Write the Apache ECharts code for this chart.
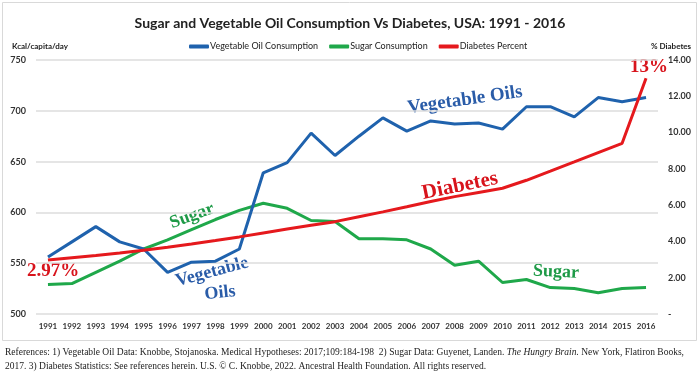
<!DOCTYPE html>
<html>
<head>
<meta charset="utf-8">
<script src="https://cdn.jsdelivr.net/npm/echarts@6/dist/echarts.min.js"></script>
<style>html,body{margin:0;padding:0;background:#fff}#c{width:700px;height:374px}</style>
</head>
<body>
<div id="c"></div>
<script>
const years = ['1991','1992','1993','1994','1995','1996','1997','1998','1999','2000','2001','2002','2003','2004','2005','2006','2007','2008','2009','2010','2011','2012','2013','2014','2015','2016'];
const vegOil = [556,571,586,571,564,541,551,552,564,639,649,678,656,675,693,680,690,687,688,682,704,704,694,713,709,713];
const sugar = [529,530,541,552,564,573,583,593,602,609,604,592,591,574,574,573,564,548,552,531,534,526,525,521,525,526];
const diabetes = [2.97,3.1,3.22,3.36,3.52,3.68,3.86,4.05,4.25,4.47,4.68,4.89,5.09,5.36,5.63,5.91,6.2,6.47,6.7,6.93,7.37,7.87,8.38,8.9,9.41,13.0];
const leftTicks = {min:500, max:750, interval:50};
const rightTicks = {min:0, max:14, interval:2};

const BLUE = '#1f62ad', GREEN = '#1fa84a', RED = '#e5191d';
const SANS = 'Lato, "Open Sans", sans-serif';
const SERIF = '"Liberation Serif", "DejaVu Serif", serif';

const chart = echarts.init(document.getElementById('c'), null, {renderer:'canvas'});
chart.setOption({
  animation: false,
  backgroundColor: '#fff',
  title: {
    text: 'Sugar and Vegetable Oil Consumption Vs Diabetes, USA: 1991 - 2016',
    left: 'center', top: 11,
    textStyle: {fontFamily: SANS, fontSize: 14, fontWeight: 'bold', color: '#222'}
  },
  legend: {
    top: 37, left: 184,
    itemWidth: 20, itemHeight: 4, itemGap: 11,
    icon: 'roundRect',
    textStyle: {fontFamily: SANS, fontSize: 9, color: '#222', padding:[0,0,0,-4]},
    data: ['Vegetable Oil Consumption','Sugar Consumption','Diabetes Percent']
  },
  grid: {left: 36, right: 42, top: 60, bottom: 60},
  xAxis: {
    type: 'category', data: years, boundaryGap: true,
    axisLine: {show: false}, axisTick: {show: false},
    axisLabel: {interval: 0, fontFamily: SANS, fontSize: 8, fontWeight: 'bold', color: '#333', margin: 8}
  },
  yAxis: [
    {type: 'value', min: leftTicks.min, max: leftTicks.max, interval: leftTicks.interval,
     axisLine: {show:false}, axisTick: {show:false},
     axisLabel: {fontFamily: SANS, fontSize: 9, fontWeight: 'bold', color: '#333', margin: 10},
     splitLine: {lineStyle: {color: '#dcdcdc', width: 1.5}}},
    {type: 'value', min: rightTicks.min, max: rightTicks.max, interval: rightTicks.interval,
     axisLine: {show:false}, axisTick: {show:false},
     axisLabel: {fontFamily: SANS, fontSize: 9, fontWeight: 'bold', color: '#333', margin: 10,
       formatter: v => v === 0 ? '-' : v.toFixed(2)},
     splitLine: {show:false}}
  ],
  series: [
    {name: 'Vegetable Oil Consumption', type: 'line', data: vegOil, symbol: 'none',
     lineStyle: {width: 3, color: BLUE}, itemStyle: {color: BLUE}, z: 3},
    {name: 'Sugar Consumption', type: 'line', data: sugar, symbol: 'none',
     lineStyle: {width: 3, color: GREEN}, itemStyle: {color: GREEN}, z: 2},
    {name: 'Diabetes Percent', type: 'line', yAxisIndex: 1, data: diabetes, symbol: 'none',
     lineStyle: {width: 3, color: RED}, itemStyle: {color: RED}, z: 4}
  ],
  graphic: [
    {type:'rect', shape:{x:2.5, y:2.5, width:694, height:338}, style:{fill:'none', stroke:'#d9d9d9', lineWidth:1}, silent:true, z:-1},
    {type:'text', x:12, y:46, style:{text:'Kcal/capita/day', font:'bold 8px '+SANS, fill:'#222', align:'left', verticalAlign:'middle'}},
    {type:'text', x:651, y:46, style:{text:'% Diabetes', font:'bold 8px '+SANS, fill:'#222', align:'left', verticalAlign:'middle'}},
    {type:'text', x:53, y:271, style:{text:'2.97%', font:'bold 19px '+SERIF, fill:'#d8141c', align:'center', verticalAlign:'middle'}},
    {type:'text', x:649, y:67, style:{text:'13%', font:'bold 19px '+SERIF, fill:'#d8141c', align:'center', verticalAlign:'middle'}},
    {type:'text', x:465, y:100, rotation:0.14, style:{text:'Vegetable Oils', font:'bold 19px '+SERIF, fill:'#2a5ca8', align:'center', verticalAlign:'middle'}},
    {type:'text', x:460, y:186, rotation:0.2, style:{text:'Diabetes', font:'bold 21px '+SERIF, fill:'#d8141c', align:'center', verticalAlign:'middle'}},
    {type:'text', x:192, y:216, rotation:0.35, style:{text:'Sugar', font:'bold 18px '+SERIF, fill:'#1e9a47', align:'center', verticalAlign:'middle'}},
    {type:'text', x:212, y:272, rotation:0.26, style:{text:'Vegetable', font:'bold 18px '+SERIF, fill:'#2a5ca8', align:'center', verticalAlign:'middle'}},
    {type:'text', x:220, y:293, rotation:0.1, style:{text:'Oils', font:'bold 18px '+SERIF, fill:'#2a5ca8', align:'center', verticalAlign:'middle'}},
    {type:'text', x:556, y:272, rotation:-0.05, style:{text:'Sugar', font:'bold 18px '+SERIF, fill:'#1e9a47', align:'center', verticalAlign:'middle'}},
    {type:'text', x:5, y:352, style:{text:'References: 1) Vegetable Oil Data: Knobbe, Stojanoska. Medical Hypotheses: 2017;109:184-198  2) Sugar Data: Guyenet, Landen. {i|The Hungry Brain.} New York, Flatiron Books,', font:'9.5px '+SERIF, fill:'#222', align:'left', verticalAlign:'middle', rich:{i:{fontStyle:'italic', fontSize:9.5, fontFamily:SERIF, fill:'#222'}}}},
    {type:'text', x:5, y:366, style:{text:'2017. 3) Diabetes Statistics: See references herein. U.S. \u00A9 C. Knobbe, 2022. Ancestral Health Foundation. All rights reserved.', font:'9.5px '+SERIF, fill:'#222', align:'left', verticalAlign:'middle'}}
  ]
});
</script>
</body>
</html>
